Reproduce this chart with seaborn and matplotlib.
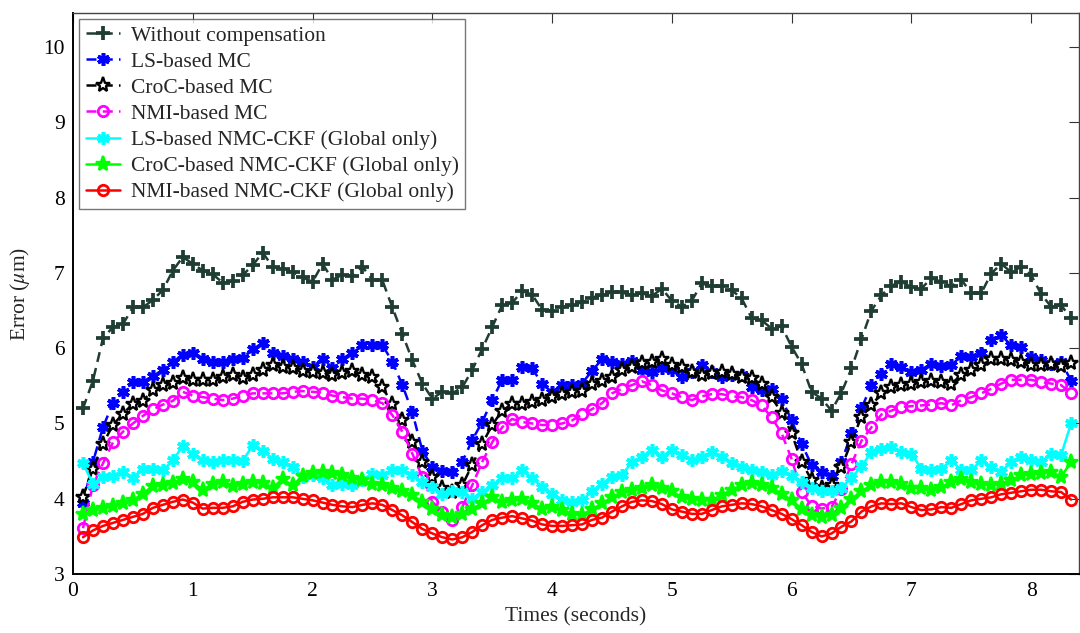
import numpy as np
import pandas as pd
import matplotlib
matplotlib.use("Agg")
import matplotlib.pyplot as plt
import seaborn as sns

# ---- data ----
time_s = np.arange(1, 101) / 12.0

without_comp = [5.20, 5.57, 6.13, 6.28, 6.32, 6.54, 6.54, 6.64, 6.77, 7.03, 7.21, 7.12, 7.03, 6.98, 6.87, 6.89, 6.97, 7.10, 7.27, 7.08, 7.05, 7.01, 6.94, 6.88,
                7.12, 6.91, 6.97, 6.96, 7.08, 6.91, 6.90, 6.54, 6.19, 5.84, 5.53, 5.33, 5.42, 5.40, 5.48, 5.71, 5.99, 6.28, 6.57, 6.60, 6.76, 6.71, 6.51, 6.50, 6.54, 6.57,
                6.61, 6.67, 6.71, 6.74, 6.74, 6.70, 6.73, 6.69, 6.79, 6.63, 6.55, 6.63, 6.86, 6.82, 6.82, 6.77, 6.66, 6.40, 6.37, 6.26, 6.29, 6.02, 5.79, 5.42, 5.33, 5.17,
                5.41, 5.73, 6.12, 6.50, 6.70, 6.83, 6.88, 6.81, 6.79, 6.93, 6.88, 6.82, 6.91, 6.73, 6.73, 6.99, 7.12, 7.01, 7.08, 6.97, 6.72, 6.55, 6.57, 6.40]

ls_mc = [3.94, 4.49, 4.95,
         5.27, 5.42, 5.55, 5.55, 5.63, 5.71, 5.82, 5.91, 5.93, 5.85, 5.82, 5.82, 5.86, 5.87, 5.99, 6.07, 5.93, 5.90, 5.85, 5.82, 5.75, 5.86, 5.74,
         5.85, 5.93, 6.04, 6.04, 6.04, 5.82, 5.51,
         5.15, 4.64, 4.42, 4.37, 4.36, 4.49, 4.78, 5.02,
         5.31, 5.58, 5.58, 5.75, 5.73, 5.53, 5.42, 5.51, 5.51,
         5.53, 5.70, 5.85, 5.82, 5.79, 5.83, 5.71, 5.68, 5.73, 5.71, 5.62, 5.68, 5.77, 5.68, 5.62, 5.64, 5.64, 5.48, 5.44, 5.46,
         5.33, 5.04, 4.73, 4.45, 4.36, 4.30, 4.49, 4.87, 5.20,
         5.51, 5.66, 5.79, 5.75, 5.68, 5.71, 5.79, 5.76, 5.77, 5.90, 5.88, 5.93, 6.11, 6.17, 6.04, 6.02, 5.88, 5.84, 5.79, 5.82, 5.57]

croc_mc = [4.03, 4.40, 4.73, 4.98,
           5.13, 5.26, 5.30, 5.44, 5.51, 5.54, 5.61, 5.58, 5.58, 5.58, 5.62, 5.65, 5.61, 5.65, 5.71, 5.77, 5.75, 5.73, 5.70, 5.68,
           5.67, 5.64, 5.67, 5.70, 5.65, 5.62, 5.48,
           5.26, 5.04, 4.76, 4.49, 4.29, 4.14, 4.09, 4.18, 4.45, 4.73, 4.98,
           5.17, 5.26, 5.26, 5.28, 5.31, 5.35, 5.39, 5.42,
           5.43, 5.52, 5.57, 5.62, 5.71, 5.75, 5.80, 5.82, 5.85, 5.77, 5.75, 5.68, 5.64, 5.67, 5.68, 5.66, 5.62, 5.61, 5.52, 5.35,
           5.14, 4.87, 4.49, 4.25, 4.14, 4.18, 4.42, 4.76,
           5.09, 5.24, 5.40, 5.48, 5.51, 5.53, 5.55, 5.57, 5.55, 5.53, 5.64, 5.71, 5.77, 5.85, 5.86, 5.84, 5.82, 5.77, 5.77, 5.79, 5.76, 5.80]

nmi_mc = [3.61, 4.18, 4.47, 4.75, 4.89, 5.00, 5.10, 5.19, 5.25, 5.30,
          5.42, 5.37, 5.35, 5.33, 5.31, 5.33, 5.37, 5.40, 5.40, 5.40, 5.40, 5.42, 5.43, 5.42, 5.41, 5.37, 5.35, 5.33, 5.33, 5.31, 5.27,
          5.11, 4.89, 4.60, 4.29, 3.96, 3.83, 3.72, 3.89, 4.18, 4.49, 4.75, 4.95, 5.06,
          5.02, 5.00, 4.98, 4.98, 5.00, 5.04, 5.12, 5.19, 5.27,
          5.40, 5.46, 5.51, 5.56, 5.51, 5.44, 5.40, 5.35, 5.31, 5.36, 5.39, 5.39, 5.36, 5.35, 5.31, 5.24, 5.08,
          4.87, 4.53, 4.09, 3.91, 3.87, 3.89, 4.13, 4.46, 4.77, 4.95,
          5.12, 5.17, 5.22, 5.23, 5.24, 5.25, 5.27, 5.24, 5.31, 5.35, 5.40, 5.46, 5.53, 5.58, 5.58, 5.58, 5.55, 5.53, 5.51, 5.40]

ls_ckf = [4.47, 4.20, 4.29, 4.30, 4.36, 4.28, 4.40, 4.40, 4.38, 4.51, 4.70, 4.60, 4.51, 4.49, 4.52, 4.52, 4.50, 4.71, 4.64, 4.53, 4.49, 4.42, 4.29, 4.31,
          4.27, 4.18, 4.20, 4.18, 4.25, 4.33, 4.31, 4.38, 4.38, 4.31, 4.22, 4.16, 4.07, 4.11, 4.09, 4.00, 4.09, 4.18, 4.27, 4.27, 4.38, 4.27, 4.16, 4.07, 3.98, 3.96,
          3.98, 4.10, 4.20, 4.29, 4.31, 4.49, 4.56, 4.65, 4.56, 4.65, 4.58, 4.51, 4.56, 4.62, 4.56, 4.47, 4.42, 4.38, 4.36, 4.31, 4.37, 4.30, 4.22, 4.14, 4.11, 4.10,
          4.15, 4.28, 4.43, 4.62, 4.66, 4.69, 4.62, 4.60, 4.40, 4.38, 4.40, 4.51, 4.38, 4.38, 4.51, 4.42, 4.36, 4.49, 4.56, 4.51, 4.49, 4.60, 4.58, 5.00]

croc_ckf = [3.80, 3.85, 3.88, 3.90, 3.94, 3.98, 4.07, 4.17, 4.18, 4.21, 4.26, 4.22, 4.12, 4.20, 4.22, 4.17, 4.20, 4.22, 4.21, 4.15, 4.26, 4.18, 4.30, 4.34,
            4.36, 4.34, 4.31, 4.28, 4.25, 4.20, 4.18, 4.14, 4.11, 4.05, 3.96, 3.87, 3.78, 3.76, 3.80, 3.87, 3.94, 4.02, 3.96, 3.98, 4.00, 3.94, 3.87, 3.89, 3.85, 3.80,
            3.79, 3.86, 3.94, 4.02, 4.09, 4.12, 4.15, 4.18, 4.15, 4.10, 4.02, 4.00, 3.98, 3.98, 4.05, 4.12, 4.18, 4.21, 4.18, 4.15, 4.07, 3.98, 3.87, 3.78, 3.76, 3.78,
            3.88, 4.00, 4.10, 4.18, 4.22, 4.22, 4.20, 4.15, 4.15, 4.12, 4.16, 4.22, 4.26, 4.22, 4.20, 4.18, 4.20, 4.25, 4.31, 4.33, 4.34, 4.36, 4.29, 4.49]

nmi_ckf = [3.49, 3.58, 3.64, 3.68, 3.72, 3.76, 3.80, 3.88, 3.92, 3.96, 3.99, 3.95, 3.87, 3.88, 3.88, 3.90, 3.96, 3.99, 4.00, 4.02, 4.02, 4.02, 4.00, 3.98,
           3.95, 3.92, 3.90, 3.89, 3.92, 3.94, 3.92, 3.85, 3.78, 3.69, 3.60, 3.54, 3.49, 3.46, 3.49, 3.56, 3.65, 3.72, 3.75, 3.77, 3.74, 3.71, 3.66, 3.64, 3.64, 3.65,
           3.66, 3.72, 3.75, 3.83, 3.90, 3.96, 3.98, 3.97, 3.93, 3.86, 3.83, 3.80, 3.80, 3.85, 3.90, 3.92, 3.94, 3.93, 3.90, 3.85, 3.80, 3.73, 3.65, 3.56, 3.50, 3.54,
           3.63, 3.70, 3.83, 3.90, 3.94, 3.93, 3.94, 3.89, 3.85, 3.86, 3.89, 3.88, 3.93, 3.98, 4.00, 4.02, 4.06, 4.08, 4.10, 4.12, 4.12, 4.10, 4.09, 3.99]

labels = ["Without compensation", "LS-based MC", "CroC-based MC", "NMI-based MC",
          "LS-based NMC-CKF (Global only)", "CroC-based NMC-CKF (Global only)",
          "NMI-based NMC-CKF (Global only)"]
series = [without_comp, ls_mc, croc_mc, nmi_mc, ls_ckf, croc_ckf, nmi_ckf]

xticks = [0, 1, 2, 3, 4, 5, 6, 7, 8]
yticks = [3, 4, 5, 6, 7, 8, 9, 10]

# ---- styles ----
dash = (0, (4.0, 2.5))
styles = [
    dict(color="#1f3d33", ls=dash, marker="+", ms=10, mew=2.7, mfc="#1f3d33"),
    dict(color="#0000ff", ls=dash, marker=(6, 2, 0), ms=9, mew=2.6, mfc="#0000ff"),
    dict(color="#000000", ls=dash, marker="*", ms=11, mew=1.7, mfc="white"),
    dict(color="#ff00ff", ls=dash, marker="o", ms=7.5, mew=2.0, mfc="none"),
    dict(color="#00ffff", ls="-", marker=(6, 2, 0), ms=9, mew=2.6, mfc="#00ffff"),
    dict(color="#00ff00", ls="-", marker="*", ms=11, mew=1.7, mfc="#00ff00"),
    dict(color="#ff0000", ls="-", marker="o", ms=7.5, mew=2.0, mfc="none"),
]

sns.set_theme(style="white")
plt.rcParams["font.family"] = ["Liberation Serif", "DejaVu Serif"]
plt.rcParams["mathtext.fontset"] = "stix"

fig = plt.figure(figsize=(10.8, 6.33), dpi=100)
ax = fig.add_axes([0.0676, 0.093, 0.9315, 0.8865])

for lab, vals, st in zip(labels, series, styles):
    df = pd.DataFrame({"t": time_s, "v": vals})
    sns.lineplot(data=df, x="t", y="v", ax=ax, label=lab, color=st["color"], linewidth=1.8)
    line = ax.lines[-1]
    line.set_linestyle(st["ls"])
    line.set_marker(st["marker"])
    line.set_markersize(st["ms"])
    line.set_markeredgewidth(st["mew"])
    line.set_markeredgecolor(st["color"])
    line.set_markerfacecolor(st["mfc"])

ax.set_xlim(0, 8.4)
ax.set_ylim(3, 10.45)
ax.set_xticks(xticks)
ax.set_yticks(yticks)
ax.tick_params(direction="in", length=7, width=0.8, top=True, right=True,
               labelsize=15.5, colors="#333333", labelcolor="black", pad=6)
for side in ["left", "bottom"]:
    ax.spines[side].set_linewidth(1.4)
    ax.spines[side].set_color("black")
for side in ["top", "right"]:
    ax.spines[side].set_linewidth(1.0)
    ax.spines[side].set_color("#444444")

ax.set_xlabel("Times (seconds)", fontsize=15.5, labelpad=4)
ax.set_ylabel(r"Error ($\mu$m)", fontsize=15.5, labelpad=8)

leg = ax.legend(loc="upper left", bbox_to_anchor=(0.006, 0.989), borderaxespad=0,
                fontsize=15.5, frameon=True, fancybox=False, edgecolor="#555555",
                handlelength=1.6, handletextpad=0.5, labelspacing=0.28,
                borderpad=0.3, numpoints=1)
leg.get_frame().set_linewidth(1.0)

fig.savefig("out.png", dpi=100)
